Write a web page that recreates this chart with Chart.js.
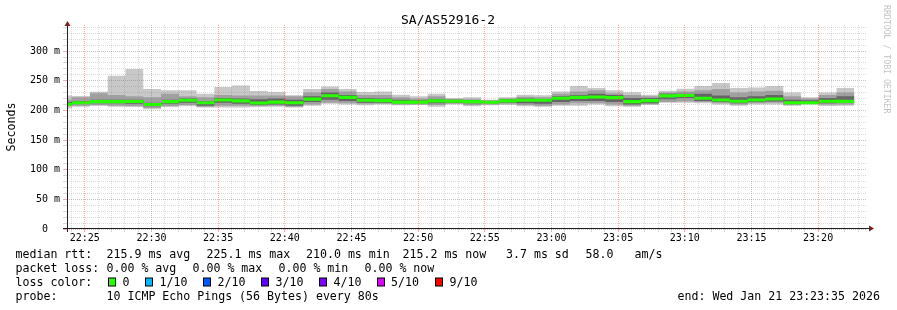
<!DOCTYPE html>
<html>
<head>
<meta charset="utf-8">
<script src="https://cdn.jsdelivr.net/npm/chart.js@4.4.1/dist/chart.umd.min.js"></script>
<style>
  html, body { margin: 0; padding: 0; background: #ffffff; }
  #wrap { width: 897px; height: 310px; position: relative; }
</style>
</head>
<body>
<div id="wrap"><canvas id="c" width="897" height="310"></canvas></div>
<script>
// ---------------- data ----------------
const chartTitle = 'SA/AS52916-2';
const yAxisLabel = 'Seconds';
const watermark = 'RRDTOOL / TOBI OETIKER';
const windowStart = '22:23:40';
const windowSeconds = 3600;
const firstStepStart = '22:22:43';
const stepSeconds = 80;
const xTickLabels = ['22:25', '22:30', '22:35', '22:40', '22:45', '22:50', '22:55', '23:00', '23:05', '23:10', '23:15', '23:20'];
const yTickLabels = ['0  ', '50 m', '100 m', '150 m', '200 m', '250 m', '300 m'];
const yMaxMs = 344;

// median RTT per 80 s step (ms)
const medianRtt = [210.5, 213, 214.8, 214.8, 215, 210, 214.8, 217, 213, 217.6, 216, 212.5, 214, 213, 219,
  224.8, 222, 217, 216.5, 214, 214, 216, 215.4, 214.8, 213.7, 216, 217, 217, 220.4, 222,
  222.6, 221.5, 214.8, 216.5, 224.5, 225.1, 220.4, 217.6, 215.4, 217.6, 219.3, 213, 213, 215.4, 215.2];
// smoke: slowest / fastest ping
const pingMax = [225, 224.4, 231.6, 258.6, 270, 236, 234, 234, 228, 239.6, 241.8, 232.8, 231, 225.4, 236,
  240.5, 236, 231, 232, 226.5, 223.7, 228, 221, 222, 218, 222, 226.5, 225.4, 232, 241,
  237.7, 233.8, 230.4, 226.5, 233, 236.6, 241, 246, 237.7, 238.8, 241, 230, 222, 230, 237.7];
const pingMin = [203, 206, 207.6, 206, 206, 202, 206, 207, 205, 205, 205, 206, 206, 205, 208,
  211, 210, 208.7, 210, 208.7, 209, 206, 210, 207, 208.7, 209, 207, 206, 208, 208,
  210, 207, 206, 210, 213, 213, 212, 210, 208, 210, 210, 208, 210, 207.5, 208];
// smoke: 2nd slowest / 2nd fastest
const pingHi2 = [218, 222, 229, 226, 224, 222, 228, 224, 222, 226, 225, 225, 225, 224, 230,
  236, 232, 226, 226, 222, 220, 224, 219, 219, 217, 220, 223, 222, 228, 232,
  234, 229, 226, 224, 230, 232, 234, 236, 230, 232, 233, 224, 220, 226, 230];
const pingLo2 = [207, 208, 209, 208, 207, 204, 207, 209, 206, 208, 208, 207, 208, 206, 210,
  213, 212, 211, 211, 210, 210, 209, 211, 209, 210, 211, 209, 208, 210, 212,
  212, 210, 208, 210, 214, 215, 214, 212, 210, 212, 213, 209, 211, 210, 210];
// smoke: inner pings
const pingHi3 = [214, 216, 218, 218, 218, 213, 218, 220, 216, 221, 220, 219, 220, 218, 224,
  230, 226, 221, 220, 218, 217, 219, 218, 217, 216, 219, 220, 219, 224, 226,
  228, 226, 221, 221, 228, 228, 228, 225, 222, 224, 226, 218, 217, 221, 224];
const pingLo3 = [209, 211, 212, 212, 211, 207, 211, 213, 208, 213, 211, 209, 210, 208, 214,
  218, 216, 213, 213, 212, 212, 212, 213, 212, 212, 213, 212, 211, 214, 216,
  216, 214, 210, 212, 219, 221, 216, 214, 212, 214, 215, 211, 212, 212, 213];

const legendTitles = ['median rtt:', 'packet loss:', 'loss color:', 'probe:'];
const rttStats = ['215.9 ms avg', '225.1 ms max', '210.0 ms min', '215.2 ms now', '3.7 ms sd', '58.0', 'am/s'];
const lossStats = ['0.00 % avg', '0.00 % max', '0.00 % min', '0.00 % now'];
const lossLabels = ['0', '1/10', '2/10', '3/10', '4/10', '5/10', '9/10'];
const lossColors = ['#26ff00', '#00b8ff', '#0059ff', '#5e00ff', '#7e00ff', '#dd00ff', '#ff0000'];
const probeText = '10 ICMP Echo Pings (56 Bytes) every 80s';
const endText = 'end: Wed Jan 21 23:23:35 2026';

// ---------------- helpers ----------------
function hms(s) { const p = s.split(':').map(Number); return p[0] * 3600 + p[1] * 60 + (p[2] || 0); }
const t0 = hms(windowStart);
const stepT0 = hms(firstStepStart);
function stepSeries(arr) {
  const pts = arr.map((v, i) => ({ x: stepT0 + i * stepSeconds, y: v }));
  pts.push({ x: stepT0 + arr.length * stepSeconds, y: arr[arr.length - 1] });
  return pts;
}
const medianHalf = 2.6; // ms, drawing thickness of the median band
const majorX = xTickLabels.map(l => hms(l + ':00'));
const minuteTicks = [];
for (let t = Math.ceil(t0 / 60) * 60; t <= t0 + windowSeconds; t += 60) minuteTicks.push(t);
const yTicks = [];
for (let v = 0; v <= yMaxMs; v += 10) yTicks.push(v);

const MONO = "'DejaVu Sans Mono', 'Liberation Mono', monospace";
const minorGrid = 'rgba(140,140,140,0.32)';
const majorGrid = 'rgba(222,79,79,0.45)';

function band(hi, lo, color, order) {
  return [
    { data: stepSeries(hi), stepped: true, fill: '+1', backgroundColor: color, borderWidth: 0, pointRadius: 0, order },
    { data: stepSeries(lo), stepped: true, fill: false, borderWidth: 0, pointRadius: 0, order }
  ];
}

const datasets = [
  ...band(pingMax, pingMin, '#c8c8c8', 4),
  ...band(pingHi2, pingLo2, '#a0a0a0', 3),
  ...band(pingHi3, pingLo3, '#646464', 2),
  ...band(medianRtt.map(v => v + medianHalf), medianRtt.map(v => v - medianHalf), lossColors[0], 1)
];

const decorPlugin = {
  id: 'decor',
  afterDraw(chart) {
    const ctx = chart.ctx;
    const a = chart.chartArea;
    ctx.save();
    // axes
    ctx.strokeStyle = '#1f1f1f';
    ctx.lineWidth = 1;
    ctx.beginPath();
    ctx.moveTo(a.left - 4, a.bottom - 0.5);
    ctx.lineTo(a.right + 3, a.bottom - 0.5);
    ctx.moveTo(a.left + 0.5, a.bottom + 3);
    ctx.lineTo(a.left + 0.5, a.top - 2);
    ctx.stroke();
    // arrows
    ctx.fillStyle = '#801f1f';
    ctx.beginPath();
    ctx.moveTo(a.left - 2.5, a.top + 1);
    ctx.lineTo(a.left + 3.5, a.top + 1);
    ctx.lineTo(a.left + 0.5, a.top - 4);
    ctx.closePath();
    ctx.fill();
    ctx.beginPath();
    ctx.moveTo(a.right + 2, a.bottom - 3.5);
    ctx.lineTo(a.right + 2, a.bottom + 2.5);
    ctx.lineTo(a.right + 7, a.bottom - 0.5);
    ctx.closePath();
    ctx.fill();

    // title
    ctx.fillStyle = '#000';
    ctx.textBaseline = 'alphabetic';
    ctx.font = '13px ' + MONO;
    ctx.textAlign = 'center';
    ctx.fillText(chartTitle, 448, 24);

    // y title
    ctx.save();
    ctx.translate(15, 127);
    ctx.rotate(-Math.PI / 2);
    ctx.font = '11.6px ' + MONO;
    ctx.textAlign = 'center';
    ctx.fillText(yAxisLabel, 0, 0);
    ctx.restore();

    // watermark
    ctx.save();
    ctx.translate(884, 5);
    ctx.rotate(Math.PI / 2);
    ctx.font = '8.2px ' + MONO;
    ctx.textAlign = 'left';
    ctx.fillStyle = 'rgba(0,0,0,0.25)';
    ctx.fillText(watermark, 0, 0);
    ctx.restore();

    // legend
    ctx.font = '11.6px ' + MONO;
    ctx.textAlign = 'left';
    ctx.fillStyle = '#000';
    const rows = [258, 272, 286, 300];
    legendTitles.forEach((t, i) => ctx.fillText(t, 15.5, rows[i]));
    const rttX = [106.5, 206.5, 306, 402.5, 506, 585.5, 634.5];
    rttStats.forEach((t, i) => ctx.fillText(t, rttX[i], rows[0]));
    const lossX = [106.5, 192.5, 278.5, 364.5];
    lossStats.forEach((t, i) => ctx.fillText(t, lossX[i], rows[1]));
    const boxX = [108.5, 145.5, 203.5, 261.5, 319.5, 377.5, 435.5];
    const labX = [122.5, 159.5, 217.5, 275.5, 333.5, 391, 449.5];
    lossLabels.forEach((t, i) => {
      ctx.fillStyle = lossColors[i];
      ctx.fillRect(boxX[i], 278, 7, 8);
      ctx.strokeStyle = '#000';
      ctx.strokeRect(boxX[i], 278, 7, 8);
      ctx.fillStyle = '#000';
      ctx.fillText(t, labX[i], rows[2]);
    });
    ctx.fillText(probeText, 106.5, rows[3]);
    ctx.fillText(endText, 677.5, rows[3]);
    ctx.restore();
  }
};

new Chart(document.getElementById('c'), {
  type: 'line',
  data: { datasets },
  plugins: [decorPlugin],
  options: {
    responsive: false,
    animation: false,
    devicePixelRatio: 1,
    layout: { padding: { left: 0, right: 30, top: 25, bottom: 0 } },
    plugins: { legend: { display: false }, tooltip: { enabled: false }, title: { display: false } },
    scales: {
      x: {
        type: 'linear',
        min: t0,
        max: t0 + windowSeconds,
        afterBuildTicks: s => { s.ticks = minuteTicks.map(v => ({ value: v })); },
        afterFit: s => { s.height = 81; },
        ticks: {
          autoSkip: false, maxRotation: 0, minRotation: 0, padding: 0,
          color: '#000', font: { family: MONO, size: 10 },
          callback: v => { const k = majorX.indexOf(v); return k >= 0 ? xTickLabels[k] : ''; }
        },
        grid: {
          z: 1,
          color: c => majorX.includes(c.tick && c.tick.value) ? majorGrid : minorGrid,
          tickColor: c => majorX.includes(c.tick && c.tick.value) ? majorGrid : minorGrid,
          lineWidth: 1, tickLength: 3, drawTicks: true
        },
        border: { display: false, dash: [1, 1] }
      },
      y: {
        type: 'linear',
        min: 0,
        max: yMaxMs,
        afterBuildTicks: s => { s.ticks = yTicks.map(v => ({ value: v })); },
        afterFit: s => { s.width = 67; },
        ticks: {
          autoSkip: false, padding: 3, color: '#000', font: { family: MONO, size: 10 },
          callback: v => (v % 50 === 0 ? yTickLabels[v / 50] : '')
        },
        grid: {
          z: 1,
          color: c => (c.tick && c.tick.value % 50 === 0) ? majorGrid : minorGrid,
          tickColor: c => (c.tick && c.tick.value % 50 === 0) ? majorGrid : minorGrid,
          lineWidth: 1, tickLength: 4, drawTicks: true
        },
        border: { display: false, dash: [1, 1] }
      }
    }
  }
});
</script>
</body>
</html>
